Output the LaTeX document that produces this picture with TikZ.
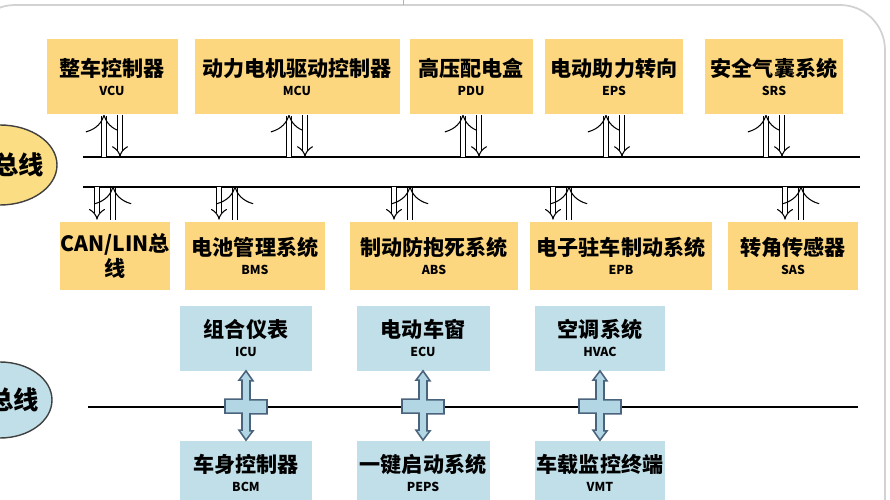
\documentclass[tikz,border=0pt]{standalone}
\usepackage{fontspec}
\setmainfont{Noto Sans CJK SC}
\usepackage{tikz}
\usetikzlibrary{arrows.meta, positioning, calc}
\definecolor{bus_yel}{RGB}{253, 215, 128}
\definecolor{bus_oval}{RGB}{251, 221, 132}
\definecolor{bus_blue}{RGB}{192, 223, 232}
\definecolor{bus_cross}{RGB}{178, 214, 228}
\definecolor{bus_edge}{RGB}{75, 100, 125}
\newcommand{\bpx}{0.02cm}
\begin{document}
\begin{tikzpicture}[x=0.02cm, y=-0.02cm, font=\bfseries,
        ybox/.style={fill=bus_yel, align=center, inner sep=0pt, font=\large\bfseries},
        bbox/.style={fill=bus_blue, align=center, inner sep=0pt, font=\large\bfseries},
        hol/.style={double=white, double distance=2.6pt, line width=0.6pt, -{Implies}},
        cross/.style={fill=bus_cross, draw=bus_edge, line width=0.9pt, line join=miter}]
        \useasboundingbox (0,0) rectangle (890,500);
        % Frame and bus ovals
        \draw[gray!35, line width=1pt, rounded corners=0.9cm] (-30,5) rectangle (885,600);
        \draw[gray!60] (403,0) -- (403,5);
        \draw[fill=bus_oval, draw=black!75, thick] (0,165) ellipse [x radius=57, y radius=40];
        \node[font=\Large\bfseries, anchor=east] (ov1) at (50,165) {总线};
        \draw[fill=bus_blue, draw=black!75, thick] (0,400) ellipse [x radius=52, y radius=38];
        \node[font=\Large\bfseries, anchor=east] (ov2) at (45,400) {总线};
        % Bus lines
        \coordinate (b1l) at (83,157); \coordinate (b1r) at (860,157);
        \coordinate (b2l) at (83,187); \coordinate (b2r) at (860,187);
        \coordinate (b3l) at (88,407); \coordinate (b3r) at (858,407);
        \draw[thick] (b1l) -- (b1r);
        \draw[thick] (b2l) -- (b2r);
        \draw[thick] (b3l) -- (b3r);
        % Top row
        \node[ybox, minimum width=131*\bpx, minimum height=75*\bpx] (vcu) at (112,77)
          {整车控制器\\[-3pt]{\scriptsize VCU}};
        \node[ybox, minimum width=205*\bpx, minimum height=75*\bpx] (mcu) at (297,77)
          {动力电机驱动控制器\\[-3pt]{\scriptsize MCU}};
        \node[ybox, minimum width=123*\bpx, minimum height=75*\bpx] (pdu) at (471,77)
          {高压配电盒\\[-3pt]{\scriptsize PDU}};
        \node[ybox, minimum width=138*\bpx, minimum height=75*\bpx] (eps) at (614,77)
          {电动助力转向\\[-3pt]{\scriptsize EPS}};
        \node[ybox, minimum width=138*\bpx, minimum height=75*\bpx] (srs) at (774,77)
          {安全气囊系统\\[-3pt]{\scriptsize SRS}};
        \foreach \b in {vcu, mcu, pdu, eps, srs} {
          \draw[hol, <-] ($(\b.south)+(-8,0)$) -- ++(0,42);
          \draw[hol] ($(\b.south)+(8,0)$) -- ++(0,42);
        }
        % Second row
        \node[ybox, minimum width=106*\bpx, minimum height=68*\bpx] (can) at (115,256)
          {CAN/LIN总\\线};
        \node[ybox, minimum width=140*\bpx, minimum height=68*\bpx] (bms) at (255,256)
          {电池管理系统\\[-3pt]{\scriptsize BMS}};
        \node[ybox, minimum width=168*\bpx, minimum height=68*\bpx] (abs) at (434,256)
          {制动防抱死系统\\[-3pt]{\scriptsize ABS}};
        \node[ybox, minimum width=182*\bpx, minimum height=68*\bpx] (epb) at (621,256)
          {电子驻车制动系统\\[-3pt]{\scriptsize EPB}};
        \node[ybox, minimum width=130*\bpx, minimum height=68*\bpx] (sas) at (793,256)
          {转角传感器\\[-3pt]{\scriptsize SAS}};
        \foreach \b/\o in {can/-10, bms/-28, abs/-32, epb/-60, sas/0} {
          \draw[hol] ($(\b.north)+(\o-8,-35)$) -- ++(0,33);
          \draw[hol, <-] ($(\b.north)+(\o+8,-35)$) -- ++(0,33);
        }
        % Body bus
        \node[bbox, minimum width=132*\bpx, minimum height=65*\bpx] (icu) at (246,338)
          {组合仪表\\[-3pt]{\scriptsize ICU}};
        \node[bbox, minimum width=133*\bpx, minimum height=65*\bpx] (ecu) at (423,338)
          {电动车窗\\[-3pt]{\scriptsize ECU}};
        \node[bbox, minimum width=130*\bpx, minimum height=65*\bpx] (hvac) at (600,338)
          {空调系统\\[-3pt]{\scriptsize HVAC}};
        \node[bbox, minimum width=132*\bpx, minimum height=65*\bpx] (bcm) at (246,473)
          {车身控制器\\[-3pt]{\scriptsize BCM}};
        \node[bbox, minimum width=133*\bpx, minimum height=65*\bpx] (peps) at (423,473)
          {一键启动系统\\[-3pt]{\scriptsize PEPS}};
        \node[bbox, minimum width=130*\bpx, minimum height=65*\bpx] (vmt) at (600,473)
          {车载监控终端\\[-3pt]{\scriptsize VMT}};
        \foreach \u/\d in {icu/bcm, ecu/peps, hvac/vmt} {
          \draw[cross] (\u.south) -- ++(7,10) -- ++(-3,0) -- ++(0,19) -- ++(17,0)
            -- ++(0,14) -- ++(-17,0) -- ++(0,17) -- ++(3,0) -- (\d.north)
            -- ++(-7,-10) -- ++(3,0) -- ++(0,-17) -- ++(-17,0) -- ++(0,-14)
            -- ++(17,0) -- ++(0,-19) -- ++(-3,0) -- cycle;
        }
\end{tikzpicture}
\end{document}
